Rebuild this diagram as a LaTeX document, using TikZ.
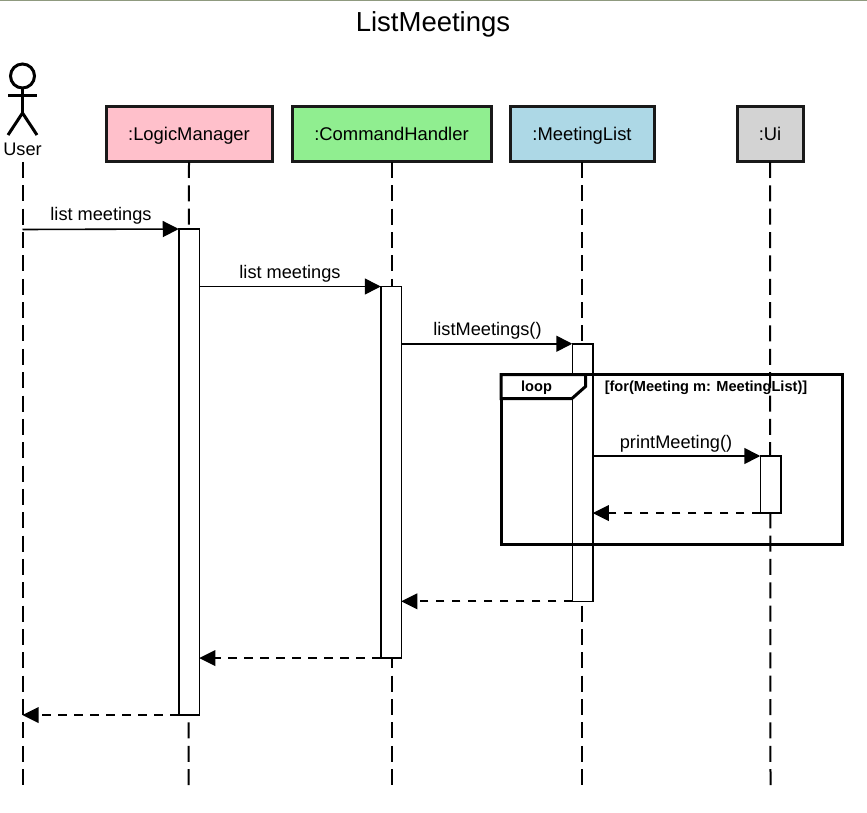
\documentclass[tikz,border=0pt]{standalone}
\usepackage{fontspec}
\setmainfont{Liberation Sans}
\usetikzlibrary{arrows.meta}
\definecolor{lmpink}{HTML}{FFC0CB}
\definecolor{chgreen}{HTML}{90EE90}
\definecolor{mlblue}{HTML}{ADD8E6}
\definecolor{uigrey}{HTML}{D3D3D3}
\definecolor{topline}{HTML}{8F9A7F}
\tikzset{
  head/.style={draw=black!90,line width=3pt,minimum height=55pt,outer sep=0pt,inner sep=0pt,text height=17pt,text depth=4pt,font=\fontsize{18.4}{20}\selectfont},
  lifeline/.style={draw=black,line width=2pt,dash pattern=on 16pt off 7.35pt},
  bar/.style={draw=black,line width=1.5pt,fill=white,minimum width=20.5pt,outer sep=0pt,inner sep=0pt},
  msg/.style={draw=black,line width=1.6pt,-{Triangle[length=16pt,width=16pt]}},
  ret/.style={draw=black,line width=1.6pt,dash pattern=on 8.5pt off 7.5pt,-{Triangle[length=16pt,width=16pt,fill=black,line width=0pt]}},
  msglabel/.style={inner sep=0pt,anchor=base,font=\fontsize{18.2}{20}\selectfont},
  actorline/.style={draw=black,line width=3pt},
  frameline/.style={draw=black,line width=3pt},
  framelabel/.style={inner sep=0pt,anchor=base,font=\fontsize{14.6}{16}\selectfont\bfseries},
}
\begin{document}
\begin{tikzpicture}[x=1pt,y=-1pt]
\useasboundingbox (0,0) rectangle (867,813);
\fill[white] (0,0) rectangle (867,813);
\draw[topline,line width=1pt] (0,0.5) -- (867,0.5);
\node[inner sep=0pt,anchor=base,font=\fontsize{27.5}{30}\selectfont] (title) at (433,32) {ListMeetings};
% actor
\node[draw=black,line width=3pt,circle,minimum size=24pt,inner sep=0pt,outer sep=0pt] (actorhead) at (22.5,76) {};
\coordinate (hip) at (22.5,113);
\coordinate (armL) at (8,96);
\coordinate (armR) at (37,96);
\coordinate (footL) at (8,135);
\coordinate (footR) at (37,135);
\draw[actorline] (actorhead.south) -- (hip);
\draw[actorline] (armL) -- (armR);
\draw[actorline] (footL) -- (hip) -- (footR);
\node[msglabel] (user) at (22.5,155.5) {User};
% heads
\node[head,fill=lmpink,minimum width=166pt] (lmhead) at (189,134.5) {:LogicManager};
\node[head,fill=chgreen,minimum width=199pt] (chhead) at (391.5,134.5) {:CommandHandler};
\node[head,fill=mlblue,minimum width=144pt] (mlhead) at (582,134.5) {:MeetingList};
\node[head,fill=uigrey,minimum width=66pt] (uihead) at (770,134.5) {:Ui};
% lifelines
\coordinate (userTop) at (22.5,162);
\coordinate (userEnd) at (22.5,785);
\coordinate (lmEnd) at (188.5,785);
\coordinate (chEnd) at (391.5,785);
\coordinate (mlEnd) at (582,785);
\coordinate (uiEnd) at (770.5,785);
\draw[lifeline] (userTop) -- (userEnd);
\draw[lifeline] (lmhead.south) -- (lmEnd);
\draw[lifeline] (chhead.south) -- (chEnd);
\draw[lifeline] (mlhead.south) -- (mlEnd);
\draw[lifeline] (uihead.south) -- (uiEnd);
% activations
\node[bar,minimum height=486pt] (lmbar) at (189,472) {};
\node[bar,minimum height=371.5pt] (chbar) at (391,472.25) {};
\node[bar,minimum height=257.5pt] (mlbar) at (582.5,472.5) {};
\node[bar,minimum height=57pt] (uibar) at (770.5,484.5) {};
% loop frame
\node[draw=black,line width=3pt,minimum width=341pt,minimum height=169.5pt,inner sep=0pt,outer sep=0pt] (loopframe) at (671.5,459.25) {};
\coordinate (tabA) at (501,398.5);
\coordinate (tabB) at (572,398.5);
\coordinate (tabC) at (585.5,386.5);
\coordinate (tabD) at (585.5,374.5);
\coordinate (tabE) at (501,374.5);
\filldraw[frameline,fill=white] (tabE) -- (tabD) -- (tabC) -- (tabB) -- (tabA) -- cycle;
\node[framelabel] (looptext) at (536.5,391.5) {loop};
\node[framelabel] (guardtext) at (706,391.5) {[for(Meeting m: MeetingList)]};
% messages
\coordinate (userMsg) at (22.5,229.5);
\coordinate (userRet) at (22.5,715);
\draw[msg] (userMsg) -- (lmbar.north west);
\node[msglabel] (m1) at (101,221) {list meetings};
\draw[msg] (lmbar.east |- chbar.north) -- (chbar.north west);
\node[msglabel] (m2) at (290,278) {list meetings};
\draw[msg] (chbar.east |- mlbar.north) -- (mlbar.north west);
\node[msglabel] (m3) at (487.5,335.5) {listMeetings()};
\draw[msg] (mlbar.east |- uibar.north) -- (uibar.north west);
\node[msglabel] (m4) at (676,448) {printMeeting()};
\draw[ret] (uibar.south west) -- (mlbar.east |- uibar.south);
\draw[ret] (mlbar.south west) -- (chbar.east |- mlbar.south);
\draw[ret] (chbar.south west) -- (lmbar.east |- chbar.south);
\draw[ret] (lmbar.south west) -- (userRet);
\end{tikzpicture}
\end{document}
